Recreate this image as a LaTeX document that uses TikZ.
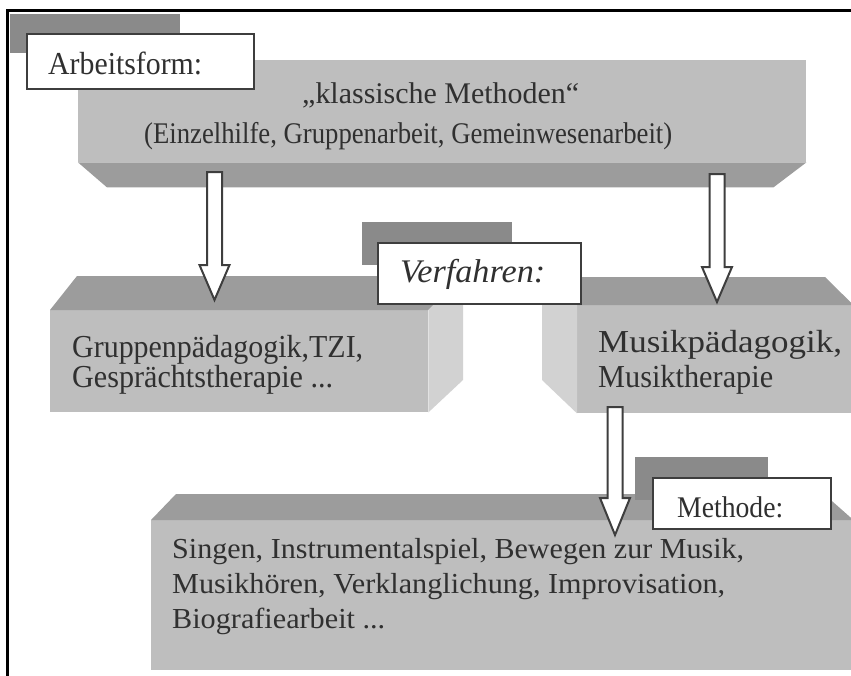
\documentclass[tikz,border=0pt]{standalone}
\usepackage{fontspec}
\setmainfont{Liberation Serif}
\usepackage{graphicx}
\usetikzlibrary{calc}

\definecolor{facegray}{RGB}{190,190,190}
\definecolor{darkface}{RGB}{156,156,156}
\definecolor{sideface}{RGB}{210,210,210}
\definecolor{tabgray}{RGB}{138,138,138}
\definecolor{inkgray}{RGB}{48,48,48}
\definecolor{rimgray}{RGB}{62,62,62}

% font size in pt (1pt = one unit of the picture)
\newcommand\txtsize[1]{\fontsize{#1}{#1}\selectfont}
% a line of text stretched to a given width, height unchanged
\newcommand\fitw[2]{\resizebox{#1pt}{\height}{#2}}
% hollow block arrow pointing down from #1 to #2
\newcommand\hollowarrow[4]{%
  \draw[arrowline] ($(#1)+(-#3,0)$) -- ($(#2)+(-#3,-#4)$) -- ($(#2)+(-2*#3,-#4)$)
    -- (#2) -- ($(#2)+(2*#3,-#4)$) -- ($(#2)+(#3,-#4)$) -- ($(#1)+(#3,0)$) -- cycle;}

\begin{document}
\begin{tikzpicture}[x=1pt,y=-1pt,
  face/.style={fill=facegray,draw=none,inner sep=0pt,anchor=north west},
  tabbox/.style={fill=tabgray,draw=none},
  labelbox/.style={fill=white,draw=rimgray,line width=2pt,inner sep=0pt,anchor=north west},
  txt/.style={anchor=base west,inner sep=0pt,text=inkgray},
  arrowline/.style={fill=white,draw=rimgray,line width=2pt,line join=miter}]
\useasboundingbox (0,0) rectangle (851,675);

% outer frame (top and left edge)
\draw[line width=3pt] (7.5,676) -- (7.5,10.5) -- (852,10.5);

% ---- Arbeitsform block ----
\fill[tabbox] (10,14) rectangle (180,53);
\node[face,minimum width=728pt,minimum height=102pt] (form) at (78,60) {};
\fill[darkface] (form.south west) -- (form.south east)
  -- ($(form.south east)+(-33,25)$) -- ($(form.south west)+(29,25)$) -- cycle;
\node[labelbox,minimum width=227pt,minimum height=55pt] (formlab) at (26,33) {};
\node[txt,font=\txtsize{32}] (formlabtxt) at (48,74) {\fitw{154}{Arbeitsform:}};
\node[txt,font=\txtsize{30}] (formtxta) at (302,103) {\fitw{277}{„klassische Methoden“}};
\node[txt,font=\txtsize{30}] (formtxtb) at (144,143) {\fitw{528}{(Einzelhilfe, Gruppenarbeit, Gemeinwesenarbeit)}};

% ---- Verfahren: left block ----
\node[face,minimum width=378pt,minimum height=102pt] (grp) at (50,310) {};
\fill[darkface] (grp.north west) -- (grp.north east) -- (463,276) -- (77,276) -- cycle;
\fill[sideface] (grp.north east) -- (463,276) -- (463,380) -- (grp.south east) -- cycle;
\node[txt,font=\txtsize{32}] (grptxta) at (72,357) {\fitw{291}{Gruppenpädagogik,TZI,}};
\node[txt,font=\txtsize{32}] (grptxtb) at (72,387) {\fitw{261}{Gesprächtstherapie ...}};

% ---- Verfahren: right block ----
\node[face,minimum width=276pt,minimum height=108pt] (mus) at (577,305) {};
\fill[darkface] (mus.north west) -- (mus.north east) -- (825,277) -- (542,277) -- cycle;
\fill[sideface] (mus.north west) -- (542,277) -- (542,380) -- (mus.south west) -- cycle;
\node[txt,font=\txtsize{32}] (mustxta) at (598,352) {\fitw{244}{Musikpädagogik,}};
\node[txt,font=\txtsize{32}] (mustxtb) at (598,387) {\fitw{175}{Musiktherapie}};

% Verfahren label
\fill[tabbox] (362,222) rectangle (512,265);
\node[labelbox,minimum width=203pt,minimum height=61pt] (verlab) at (377,242) {};
\node[txt,font=\txtsize{33}\itshape] (verlabtxt) at (400,282) {\fitw{145}{Verfahren:}};

% ---- Methode block ----
\node[face,minimum width=702pt,minimum height=150pt] (meth) at (151,520) {};
\fill[darkface] (meth.north west) -- (meth.north east) -- (824,494) -- (176,494) -- cycle;
\fill[tabbox] (635,457) rectangle (768,500);
\node[labelbox,minimum width=178pt,minimum height=51pt] (methlab) at (652,477) {};
\node[txt,font=\txtsize{30}] (methlabtxt) at (677,517) {\fitw{106}{Methode:}};
\node[txt,font=\txtsize{29}] (methtxta) at (172,558) {\fitw{572}{Singen, Instrumentalspiel, Bewegen zur Musik,}};
\node[txt,font=\txtsize{29}] (methtxtb) at (172,593) {\fitw{553}{Musikhören, Verklanglichung, Improvisation,}};
\node[txt,font=\txtsize{29}] (methtxtc) at (172,628) {\fitw{213}{Biografiearbeit ...}};

% ---- block arrows ----
\coordinate (a1s) at (214.5,172);
\coordinate (a1e) at (214.5,300);
\coordinate (a2s) at (717,174);
\coordinate (a2e) at (717,302);
\coordinate (a3s) at (615,407);
\coordinate (a3e) at (615,535);
\hollowarrow{a1s}{a1e}{7.5}{35}
\hollowarrow{a2s}{a2e}{7.5}{35}
\hollowarrow{a3s}{a3e}{7.5}{37}
\end{tikzpicture}
\end{document}
